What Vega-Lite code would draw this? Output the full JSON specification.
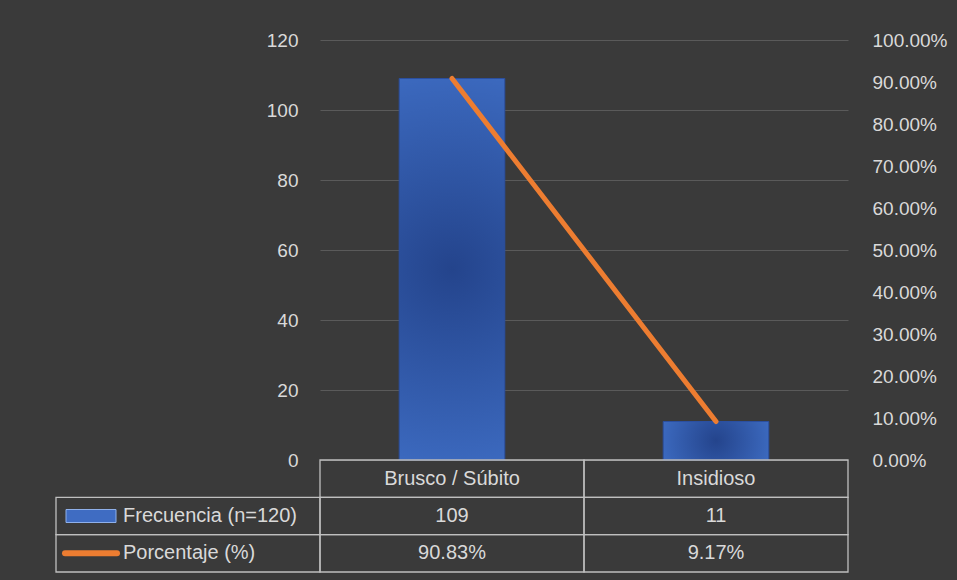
{
  "$schema": "https://vega.github.io/schema/vega-lite/v6.json",
  "background": "#3a3a3a",
  "padding": {"left": 53, "top": 31, "right": 9, "bottom": 7},
  "config": {
    "view": {"stroke": null},
    "font": "Liberation Sans",
    "axis": {"labelColor": "#d9d9d9", "labelFontSize": 19, "labelFont": "Liberation Sans", "domain": false, "ticks": false, "title": null}
  },
  "datasets": {
    "datos": [
      {"categoria": "Brusco / Súbito", "frecuencia": 109, "porcentaje": 0.9083},
      {"categoria": "Insidioso", "frecuencia": 11, "porcentaje": 0.0917}
    ],
    "tabla": [
      {"fila": "encabezado", "col": "Brusco / Súbito", "texto": "Brusco / Súbito"},
      {"fila": "encabezado", "col": "Insidioso", "texto": "Insidioso"},
      {"fila": "frecuencia", "col": "etiqueta", "texto": "Frecuencia (n=120)"},
      {"fila": "frecuencia", "col": "Brusco / Súbito", "texto": "109"},
      {"fila": "frecuencia", "col": "Insidioso", "texto": "11"},
      {"fila": "porcentaje", "col": "etiqueta", "texto": "Porcentaje (%)"},
      {"fila": "porcentaje", "col": "Brusco / Súbito", "texto": "90.83%"},
      {"fila": "porcentaje", "col": "Insidioso", "texto": "9.17%"}
    ]
  },
  "columns": 2,
  "spacing": 0,
  "bounds": "flush",
  "concat": [
    {
      "width": 264,
      "height": 420,
      "data": {"values": []},
      "mark": {"type": "rect", "opacity": 0},
      "encoding": {}
    },
    {
      "width": 528,
      "height": 420,
      "data": {"name": "datos"},
      "encoding": {
        "x": {"field": "categoria", "type": "nominal", "sort": null, "scale": {"paddingInner": 0, "paddingOuter": 0}, "axis": null}
      },
      "layer": [
        {
          "mark": {
            "type": "bar",
            "width": {"band": 0.4},
            "fill": {
              "gradient": "radial",
              "x1": 0.5, "y1": 0.5, "r1": 0,
              "x2": 0.5, "y2": 0.5, "r2": 0.72,
              "stops": [
                {"offset": 0, "color": "#24448c"},
                {"offset": 0.7, "color": "#3b68bd"},
                {"offset": 1, "color": "#4c7ed6"}
              ]
            },
            "stroke": "#2b4f9f",
            "strokeWidth": 1
          },
          "encoding": {
            "y": {
              "field": "frecuencia", "type": "quantitative",
              "scale": {"domain": [0, 120]},
              "axis": {"orient": "left", "values": [0, 20, 40, 60, 80, 100, 120], "grid": true, "gridColor": "#5a5a5a", "gridWidth": 1, "labelPadding": 22}
            }
          }
        },
        {
          "mark": {"type": "line", "color": "#ed7d31", "strokeWidth": 5, "strokeCap": "round"},
          "encoding": {
            "y": {
              "field": "porcentaje", "type": "quantitative",
              "scale": {"domain": [0, 1]},
              "axis": {"orient": "right", "values": [0, 0.1, 0.2, 0.3, 0.4, 0.5, 0.6, 0.7, 0.8, 0.9, 1], "format": ".2%", "grid": false, "labelPadding": 24}
            }
          }
        }
      ],
      "resolve": {"scale": {"y": "independent"}}
    },
    {
      "width": 264,
      "height": 112,
      "data": {"name": "tabla"},
      "transform": [{"filter": "datum.col == 'etiqueta'"}],
      "encoding": {
        "x": {"field": "col", "type": "nominal", "scale": {"domain": ["etiqueta"], "paddingInner": 0, "paddingOuter": 0}, "axis": null},
        "y": {"field": "fila", "type": "nominal", "sort": null, "scale": {"domain": ["encabezado", "frecuencia", "porcentaje"], "paddingInner": 0, "paddingOuter": 0}, "axis": null}
      },
      "layer": [
        {
          "mark": {"type": "rect", "filled": false, "stroke": "#bfbfbf", "strokeWidth": 1.3}
        },
        {
          "mark": {"type": "text", "align": "left", "dx": 67, "color": "#d9d9d9", "fontSize": 20, "font": "Liberation Sans"},
          "encoding": {
            "x": {"field": "col", "type": "nominal", "bandPosition": 0},
            "text": {"field": "texto"}
          }
        },
        {
          "transform": [{"filter": "datum.fila == 'frecuencia'"}],
          "mark": {"type": "point", "shape": "M-1,-0.26L1,-0.26L1,0.26L-1,0.26Z", "size": 2500, "filled": true, "fill": "#3f6cc2", "stroke": "#8fb0ea", "strokeWidth": 1, "opacity": 1, "xOffset": 35},
          "encoding": {"x": {"field": "col", "type": "nominal", "bandPosition": 0}}
        },
        {
          "transform": [{"filter": "datum.fila == 'porcentaje'"}],
          "mark": {"type": "point", "shape": "M-1,0L1,0", "size": 2704, "filled": false, "stroke": "#ed7d31", "strokeWidth": 6, "strokeCap": "round", "opacity": 1, "xOffset": 35},
          "encoding": {"x": {"field": "col", "type": "nominal", "bandPosition": 0}}
        }
      ]
    },
    {
      "width": 528,
      "height": 112,
      "data": {"name": "tabla"},
      "transform": [{"filter": "datum.col != 'etiqueta'"}],
      "encoding": {
        "x": {"field": "col", "type": "nominal", "sort": null, "scale": {"domain": ["Brusco / Súbito", "Insidioso"], "paddingInner": 0, "paddingOuter": 0}, "axis": null},
        "y": {"field": "fila", "type": "nominal", "sort": null, "scale": {"domain": ["encabezado", "frecuencia", "porcentaje"], "paddingInner": 0, "paddingOuter": 0}, "axis": null}
      },
      "layer": [
        {
          "mark": {"type": "rect", "filled": false, "stroke": "#bfbfbf", "strokeWidth": 1.3}
        },
        {
          "mark": {"type": "text", "color": "#d9d9d9", "fontSize": 20, "font": "Liberation Sans"},
          "encoding": {"text": {"field": "texto"}}
        }
      ]
    }
  ]
}
